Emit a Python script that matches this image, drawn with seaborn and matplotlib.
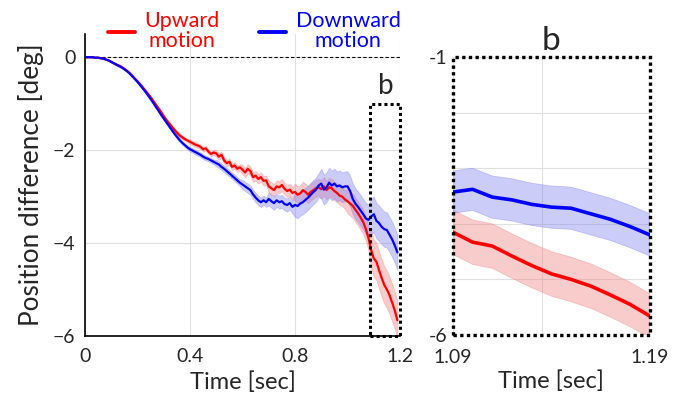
import numpy as np
import pandas as pd
import seaborn as sns
import matplotlib
matplotlib.use("Agg")
import matplotlib.pyplot as plt
from matplotlib.patches import Rectangle
from matplotlib.lines import Line2D

# ---------------- data ----------------
time = [round(i * 0.01, 2) for i in range(120)]  # 0.00 .. 1.19 s

upward = [0.00, 0.00, 0.00, 0.00, -0.01, -0.01, -0.02, -0.03, -0.05, -0.07,
          -0.10, -0.13, -0.16, -0.18, -0.21, -0.25, -0.29, -0.34, -0.40, -0.46,
          -0.52, -0.58, -0.65, -0.72, -0.79, -0.86, -0.94, -1.02, -1.10, -1.18,
          -1.27, -1.35, -1.42, -1.49, -1.56, -1.62, -1.68, -1.72, -1.76, -1.79,
          -1.82, -1.85, -1.88, -1.90, -1.93, -1.98, -1.96, -2.03, -2.08, -2.05,
          -2.07, -2.14, -2.10, -2.22, -2.28, -2.25, -2.36, -2.33, -2.40, -2.37,
          -2.42, -2.48, -2.40, -2.45, -2.58, -2.55, -2.62, -2.58, -2.66, -2.65,
          -2.78, -2.82, -2.86, -2.78, -2.80, -2.75, -2.83, -2.88, -2.85, -2.92,
          -2.90, -2.96, -2.93, -2.86, -2.90, -2.96, -2.90, -2.86, -2.82, -2.80,
          -2.84, -2.78, -2.86, -2.80, -2.82, -2.88, -2.92, -2.98, -3.00, -3.06,
          -3.10, -3.15, -3.20, -3.28, -3.36, -3.45, -3.55, -3.70, -3.90, -4.15,
          -4.33, -4.40, -4.58, -4.75, -4.90, -5.00, -5.12, -5.28, -5.45, -5.66]

downward = [0.00, 0.00, 0.00, 0.00, -0.01, -0.01, -0.02, -0.03, -0.05, -0.07,
            -0.10, -0.13, -0.16, -0.19, -0.22, -0.26, -0.30, -0.35, -0.41, -0.47,
            -0.53, -0.60, -0.67, -0.74, -0.82, -0.90, -0.98, -1.07, -1.15, -1.24,
            -1.32, -1.40, -1.48, -1.56, -1.64, -1.71, -1.78, -1.84, -1.89, -1.94,
            -1.98, -2.01, -2.04, -2.07, -2.10, -2.14, -2.17, -2.19, -2.22, -2.25,
            -2.28, -2.31, -2.36, -2.40, -2.45, -2.50, -2.55, -2.60, -2.65, -2.70,
            -2.74, -2.78, -2.82, -2.86, -2.95, -3.02, -3.08, -3.12, -3.08, -3.12,
            -3.05, -3.10, -3.14, -3.08, -3.12, -3.10, -3.16, -3.18, -3.14, -3.22,
            -3.18, -3.20, -3.15, -3.12, -3.07, -3.02, -2.96, -2.90, -2.85, -2.76,
            -2.72, -2.85, -2.80, -2.70, -2.76, -2.72, -2.78, -2.76, -2.80, -2.78,
            -2.78, -2.88, -3.05, -3.15, -3.22, -3.30, -3.38, -3.47, -3.50, -3.43,
            -3.38, -3.52, -3.57, -3.65, -3.70, -3.72, -3.82, -3.92, -4.05, -4.20]

# half-width of the shaded error bands
upward_err = [0.00] * 5 + [0.01] * 5 + [0.02] * 10 + [0.03] * 10 + [0.04] * 10 + \
             [0.05] * 10 + [0.07] * 10 + [0.10] * 10 + [0.13] * 10 + [0.18] * 10 + \
             [0.20] * 10 + [0.26] * 9 + [0.40] * 11
downward_err = [0.00] * 5 + [0.01] * 5 + [0.02] * 10 + [0.03] * 10 + [0.04] * 10 + \
               [0.05] * 10 + [0.07] * 10 + [0.10] * 10 + [0.14] * 10 + [0.26] * 10 + \
               [0.32] * 10 + [0.33] * 9 + [0.38] * 11

labels = ["Upward\nmotion", "Downward\nmotion"]
colors = ["#ff0000", "#0000ff"]
band_colors = ["#f08080", "#8080f0"]

left_xticks = [0, 0.4, 0.8, 1.2]
left_xticklabels = ["0", "0.4", "0.8", "1.2"]
left_yticks = [0, -2, -4, -6]
right_xlim = [1.09, 1.19]
right_ylim = [-6, -1]

# ---------------- figure ----------------
sns.set_style("white")
plt.rcParams["font.family"] = ["Lato", "DejaVu Sans"]

df = pd.DataFrame({
    "time": time * 2,
    "pos": upward + downward,
    "cond": [labels[0]] * len(time) + [labels[1]] * len(time),
})
err = {labels[0]: np.array(upward_err), labels[1]: np.array(downward_err)}
vals = {labels[0]: np.array(upward), labels[1]: np.array(downward)}

fig = plt.figure(figsize=(6.81, 4.0), dpi=100)
axL = fig.add_axes([0.1248, 0.16, 0.4626, 0.755])
axR = fig.add_axes([0.665, 0.1625, 0.2893, 0.695])

for ax in (axL, axR):
    for lab, bc in zip(labels, band_colors):
        v = vals[lab]
        e = err[lab]
        ax.fill_between(time, v - e, v + e, color=bc, alpha=0.4,
                        edgecolor=bc, linewidth=0.6, zorder=2)

sns.lineplot(data=df, x="time", y="pos", hue="cond", palette=colors,
             ax=axL, linewidth=1.6, legend=False, zorder=3)
sns.lineplot(data=df, x="time", y="pos", hue="cond", palette=colors,
             ax=axR, linewidth=2.6, legend=False, zorder=3)

# ---- left axes ----
axL.set_xlim(0, 1.2)
axL.set_ylim(-6, 0.5)
axL.set_xticks(left_xticks)
axL.set_xticklabels(left_xticklabels)
axL.set_yticks(left_yticks)
axL.grid(True, color="#e0e0e0", linewidth=0.8)
axL.set_axisbelow(True)
axL.axhline(0, color="black", linestyle=(0, (3, 2)), linewidth=0.8, zorder=1)
for s in ["top", "right"]:
    axL.spines[s].set_visible(False)
for s in ["left", "bottom"]:
    axL.spines[s].set_color("black")
    axL.spines[s].set_linewidth(1.2)
axL.tick_params(axis="both", labelsize=14, length=0, pad=7)
axL.tick_params(axis="x", pad=9)
axL.set_xlabel("Time [sec]", fontsize=17, labelpad=4)
axL.set_ylabel("Position difference [deg]", fontsize=18.8, labelpad=6)

rect = Rectangle((1.087, -6), 1.2 - 1.087, 5, fill=False, edgecolor="black",
                 linestyle=(0, (1, 1)), linewidth=2.2, zorder=5, clip_on=False)
axL.add_patch(rect)
axL.text(1.145, -0.9, "b", fontsize=20, ha="center", va="bottom")

# ---- right axes ----
axR.set_xlim(*right_xlim)
axR.set_ylim(*right_ylim)
axR.set_xticks(right_xlim)
axR.set_xticklabels(["1.09", "1.19"])
axR.set_yticks([-1, -2, -3, -4, -5, -6])
axR.set_yticklabels(["-1", "", "", "", "", "-6"])
axR.set_xticks([1.135], minor=True)
axR.grid(True, which="both", color="#e0e0e0", linewidth=0.8)
axR.set_axisbelow(True)
for s in axR.spines.values():
    s.set_visible(False)
frame = Rectangle((0, 0), 1, 1, transform=axR.transAxes, fill=False,
                  edgecolor="black", linestyle=(0, (1, 1)), linewidth=2.4,
                  zorder=6, clip_on=False)
axR.add_patch(frame)
axR.tick_params(axis="y", which="both", labelsize=14, length=0, pad=4)
axR.tick_params(axis="x", which="both", labelsize=14, length=0, pad=10)
axR.set_xlabel("Time [sec]", fontsize=17, labelpad=3)
axR.set_ylabel("")
axR.set_title("b", fontsize=24, pad=5)

# ---- legend ----
handles = [Line2D([0], [0], color=c, linewidth=2.8) for c in colors]
leg = fig.legend(handles, labels, loc="upper left", bbox_to_anchor=(0.158, 0.972),
                 ncol=2, frameon=False, fontsize=15.5, handlelength=1.25,
                 handletextpad=0.45, columnspacing=1.85, borderaxespad=0,
                 borderpad=0)
for t, c in zip(leg.get_texts(), colors):
    t.set_color(c)
    t.set_multialignment("center")
    t.set_linespacing(1.0)

fig.savefig("out.png", dpi=100)
